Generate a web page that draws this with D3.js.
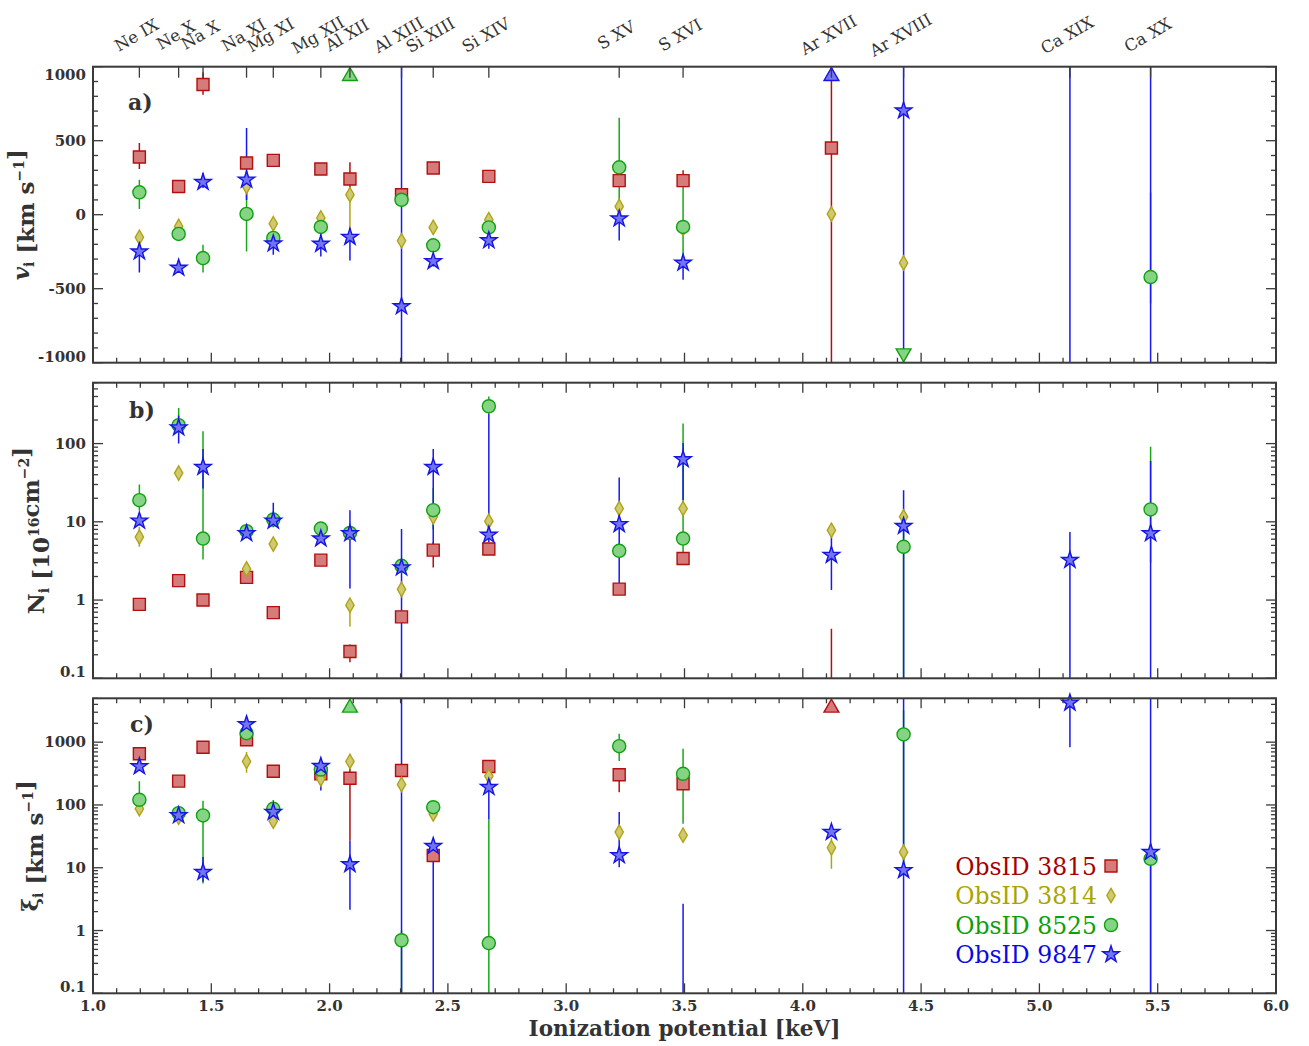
<!DOCTYPE html>
<html><head><meta charset="utf-8">
<script src="https://cdn.jsdelivr.net/npm/d3@7/dist/d3.min.js"></script>
<style>body{margin:0;background:#fff}svg{display:block}</style>
</head><body>
<svg id="chart" width="1309" height="1046"></svg>
<script>
// ---------------- DATA ----------------
const ions = ["Ne IX","Ne X","Na X","Na XI","Mg XI","Mg XII","Al XII","Al XIII","Si XIII","Si XIV","S XV","S XVI","Ar XVII","Ar XVIII","Ca XIX","Ca XX"];
const ionEnergy = [1.196,1.362,1.465,1.649,1.762,1.963,2.086,2.304,2.438,2.673,3.224,3.494,4.121,4.426,5.129,5.470];
const obsIds = ["3815","3814","8525","9847"];
const N = null;

// panel a: velocity [km/s]; "up"/"down" = value off the axis
const vel3815   = [390,191,880,349,367,309,241,135,316,259,230,230,451,N,N,N];
const vel3815Lo = [309,175,810,330,340,290,180,120,300,245,215,212,-1100,N,N,N];
const vel3815Hi = [485,210,960,370,405,330,355,150,335,275,250,300,1100,N,N,N];
const vel3814   = [-153,-79,N,191,-61,-22,135,-176,-86,-34,56,-95,5,-326,N,N];
const vel3814Lo = [-180,-100,N,170,-85,-45,-100,-200,-115,-55,35,-110,-15,-350,N,N];
const vel3814Hi = [-125,-55,N,215,-40,0,180,-150,-55,-10,80,-80,25,-300,N,N];
const vel8525   = [151,-130,-293,5,-157,-83,"up",101,-207,-86,320,-83,N,"down",N,-421];
const vel8525Lo = [38,-155,-390,-248,-180,-110,N,70,-230,-110,60,-270,N,N,N,-600];
const vel8525Hi = [236,-105,-203,200,-135,-60,N,130,-185,-62,655,195,N,N,N,150];
const vel9847   = [-250,-360,220,236,-196,-198,-151,-620,-315,-174,-27,-326,"up",703,N,N];
const vel9847Lo = [-390,-385,180,100,-270,-282,-309,-1100,-350,-230,-174,-439,N,-1100,-1100,-1100];
const vel9847Hi = [-169,-335,282,586,-140,-130,-90,1100,-280,-120,20,-270,N,1100,1100,1100];

// panel b: column density [1e16 cm^-2]
const col3815   = [0.88,1.77,1.0,1.95,0.69,3.24,0.22,0.61,4.35,4.5,1.38,3.4,N,N,N,N];
const col3815Lo = [0.82,1.65,0.93,1.8,0.64,3.0,0.16,0.55,2.6,4.2,1.3,3.2,0.01,N,N,N];
const col3815Hi = [0.95,1.9,1.08,2.1,0.75,3.5,0.27,0.67,5.5,4.9,1.5,3.7,0.43,N,N,N];
const col3814   = [6.4,42,N,2.5,5.2,N,0.86,1.37,11.6,10.2,14.8,14.8,7.8,11.6,N,N];
const col3814Lo = [4.8,36,N,2.2,4.4,N,0.46,1.1,10,9,13,13,6.5,10,N,N];
const col3814Hi = [8.6,50,N,2.9,6.2,N,1.0,1.7,13.5,11.5,17,17,9.5,13.5,N,N];
const col8525   = [18.9,172,6.1,7.6,10.7,8.2,7.2,2.74,14.1,300,4.26,6.1,N,4.8,N,14.4];
const col8525Lo = [14,140,3.3,6.8,9.5,7.5,6.5,2.4,8,240,3.5,4,N,0.01,N,3];
const col8525Hi = [30,286,144,8.5,12,9,8,3.1,27,400,5.3,181,N,9,N,91];
const col9847   = [10.3,160,50,7.1,10.3,6.1,7.1,2.59,50,6.8,9.3,62.7,3.76,8.8,3.24,7.1];
const col9847Lo = [9,100,26.7,6.5,8.5,5.5,1.41,0.01,4.5,5.5,1.63,19,1.34,0.01,0.01,0.01];
const col9847Hi = [12,229,85,7.8,17.5,6.8,14.1,8.1,85,241,36.9,102,9,25.4,7.4,60];

// panel c: xi [km/s]
const xi3815   = [653,240,832,1091,345,314,267,354,15.7,410,303,218,"up",N,N,N];
const xi3815Lo = [600,220,770,1000,320,290,27,320,14,380,160,200,N,N,N,N];
const xi3815Hi = [700,260,900,1180,375,340,442,390,17,440,330,240,N,N,N,N];
const xi3814   = [87,64,N,493,55,261,493,212,72,288,37,33,20.8,17.7,N,N];
const xi3814Lo = [75,55,N,325,47,230,420,190,65,260,32,29,9.6,15,N,N];
const xi3814Hi = [100,72,N,700,65,290,650,235,80,320,43,38,30,21,N,N];
const xi8525   = [121,74,68,1390,87,367,"up",0.70,92,0.63,863,314,N,1327,N,13.9];
const xi8525Lo = [95,67,5.6,1250,80,340,N,0.05,85,0.01,500,50,N,10,N,0.01];
const xi8525Hi = [239,82,117,1550,120,400,N,1,110,60,1360,785,N,3200,N,20];
const xi9847   = [410,68,8.5,1914,77,415,11.3,N,22,192,15.7,N,37,9.1,4240,17.7];
const xi9847Lo = [360,60,6,1700,70,170,2.14,0.01,0.01,60,10.2,0.01,32,0.01,832,0.01];
const xi9847Hi = [470,76,14.8,2150,85,480,27,9000,28,230,77,2.67,43,9000,9000,9000];

const velTicks = [-1000,-500,0,500,1000];
const logTickLabels = [0.1,1,10,100,1000];
const xTicks = [1.0,1.5,2.0,2.5,3.0,3.5,4.0,4.5,5.0,5.5,6.0];

// ---------------- STYLE ----------------
const styles = [
  {edge:"#b01010", fill:"#d67a7a", line:"#b01010", text:"#a80000", sym:d3.symbolSquare,  size:144},
  {edge:"#b0a414", fill:"#cfca72", line:"#b0a414", text:"#aaa400", sym:d3.symbolDiamond, size:60},
  {edge:"#12a012", fill:"#84d484", line:"#16a816", text:"#0ca00c", sym:d3.symbolCircle,  size:135},
  {edge:"#1414e6", fill:"#7474f0", line:"#1818f0", text:"#0a0ae6", sym:d3.symbolStar,    size:85}
];
const FONT = "'DejaVu Serif', serif";
const AX = "#3a3a3a";

const svg = d3.select("#chart");
const x = d3.scaleLinear([1,6],[93,1276]);
const panels = [
  {key:"a", y:d3.scaleLinear([-1000,1000],[362.7,66.7]), vals:[vel3815,vel3814,vel8525,vel9847], lo:[vel3815Lo,vel3814Lo,vel8525Lo,vel9847Lo], hi:[vel3815Hi,vel3814Hi,vel8525Hi,vel9847Hi], log:false, lab:[128,110], title:"v", tx:29},
  {key:"b", y:d3.scaleLog([0.1,600],[678.3,382.7]), vals:[col3815,col3814,col8525,col9847], lo:[col3815Lo,col3814Lo,col8525Lo,col9847Lo], hi:[col3815Hi,col3814Hi,col8525Hi,col9847Hi], log:true, lab:[129,418], title:"N", tx:44},
  {key:"c", y:d3.scaleLog([0.1,5000],[993.3,698.3]), vals:[xi3815,xi3814,xi8525,xi9847], lo:[xi3815Lo,xi3814Lo,xi8525Lo,xi9847Lo], hi:[xi3815Hi,xi3814Hi,xi8525Hi,xi9847Hi], log:true, lab:[130,732], title:"xi", tx:38}
];

const defs = svg.append("defs");

panels.forEach((p,pi)=>{
  const [y0,y1] = p.y.range(); // bottom, top
  const g = svg.append("g");
  defs.append("clipPath").attr("id","clip"+p.key).append("rect")
    .attr("x",x(1)).attr("y",y1).attr("width",x(6)-x(1)).attr("height",y0-y1);
  const data = g.append("g").attr("clip-path",`url(#clip${p.key})`);

  // error bars
  styles.forEach((s,si)=>{
    ionEnergy.forEach((e,i)=>{
      const lo = p.lo[si][i], hi = p.hi[si][i];
      if(lo==null || hi==null) return;
      data.append("line").attr("x1",x(e)).attr("x2",x(e))
        .attr("y1",p.y(lo)).attr("y2",p.y(hi))
        .attr("stroke",s.line).attr("stroke-width",1.5);
    });
  });
  // markers
  styles.forEach((s,si)=>{
    ionEnergy.forEach((e,i)=>{
      const v = p.vals[si][i];
      if(v==null) return;
      let path, cx=x(e), cy;
      if(v==="up"){ path=d3.symbol(d3.symbolTriangle,95)(); cy=y1+9.5; }
      else if(v==="down"){ path=d3.symbol(d3.symbolTriangle,95)(); cy=y0-9.5; }
      else { path=d3.symbol(s.sym,s.size)(); cy=p.y(v); }
      g.append("path").attr("d",path)
        .attr("transform",`translate(${cx},${cy})${v==="down"?" rotate(180)":""}`)
        .attr("fill",s.fill).attr("stroke",s.edge).attr("stroke-width",1.4);
    });
  });

  // axes
  const ax = g.append("g").attr("stroke",AX).attr("stroke-width",1.3);
  const xMinor = d3.range(1,6.001,0.1).map(v=>+v.toFixed(1));
  const addT = (x1,y1,x2,y2)=>ax.append("line").attr("x1",x1).attr("y1",y1).attr("x2",x2).attr("y2",y2);
  xMinor.forEach(v=>{
    const maj = Math.abs(v*2-Math.round(v*2))<1e-6;
    const L = maj?10:5;
    addT(x(v),y0,x(v),y0-L);
    if(pi>0) addT(x(v),y1,x(v),y1+L);
  });
  if(pi===0){
    ionEnergy.forEach(e=>addT(x(e),y1,x(e),y1+11));
  }
  let yt;
  if(!p.log){
    yt = d3.range(-1000,1001,100).map(v=>({v, maj: v%500===0}));
  } else {
    const d = p.y.domain();
    yt = p.y.ticks().filter(v=>v>=d[0]-1e-9 && v<=d[1]+1e-9).map(v=>{
      const l = Math.log10(v); return {v, maj: Math.abs(l-Math.round(l))<1e-6};
    });
  }
  yt.forEach(t=>{
    const L = t.maj?10:5;
    addT(x(1),p.y(t.v),x(1)+L,p.y(t.v));
    addT(x(6),p.y(t.v),x(6)-L,p.y(t.v));
  });
  g.append("rect").attr("x",x(1)).attr("y",y1).attr("width",x(6)-x(1)).attr("height",y0-y1)
    .attr("fill","none").attr("stroke",AX).attr("stroke-width",2);

  const labs = p.log ? logTickLabels.filter(v=>v>=p.y.domain()[0] && v<=p.y.domain()[1]) : velTicks;
  labs.forEach(v=>{
    let yy = p.y(v);
    if(Math.abs(yy-y0)<1) yy -= 6;
    if(Math.abs(yy-y1)<1) yy += 8;
    g.append("text").attr("x",86).attr("y",yy+5).attr("text-anchor","end")
      .attr("font-family",FONT).attr("font-weight","bold").attr("font-size",15).attr("fill","#333")
      .text(String(v));
  });
  g.append("text").attr("x",p.lab[0]).attr("y",p.lab[1]).attr("font-family",FONT)
    .attr("font-weight","bold").attr("font-size",22).attr("fill","#333").text(p.key+")");

  const ty = (y0+y1)/2;
  const t = g.append("text").attr("transform",`translate(${p.tx},${ty}) rotate(-90)`)
    .attr("text-anchor","middle").attr("font-family",FONT).attr("font-weight","bold")
    .attr("font-size",23).attr("fill","#333");
  const sub = (txt)=>{ t.append("tspan").attr("font-size",14).attr("dy",5).text(txt); t.append("tspan").attr("dy",-5).text(""); };
  const sup = (txt)=>{ t.append("tspan").attr("font-size",14).attr("dy",-10).text(txt); t.append("tspan").attr("dy",10).text(""); };
  if(p.title==="v"){
    t.append("tspan").attr("font-style","italic").text("v"); sub("i");
    t.append("tspan").text(" [km s"); sup("−1"); t.append("tspan").text("]");
  } else if(p.title==="N"){
    t.append("tspan").text("N"); sub("i");
    t.append("tspan").text(" [10"); sup("16"); t.append("tspan").text("cm"); sup("−2"); t.append("tspan").text("]");
  } else {
    t.append("tspan").text("ξ"); sub("i");
    t.append("tspan").text(" [km s"); sup("−1"); t.append("tspan").text("]");
  }
});

// ion labels on top
ions.forEach((name,i)=>{
  svg.append("text").attr("transform",`translate(${x(ionEnergy[i])},40) rotate(-30)`)
    .attr("text-anchor","middle").attr("font-family",FONT).attr("font-size",16.5).attr("fill","#333")
    .text(name);
});

// x tick labels
xTicks.forEach(v=>{
  svg.append("text").attr("x",x(v)).attr("y",1011).attr("text-anchor","middle")
    .attr("font-family",FONT).attr("font-weight","bold").attr("font-size",15).attr("fill","#333")
    .text(v.toFixed(1));
});
svg.append("text").attr("x",684.5).attr("y",1036).attr("text-anchor","middle")
  .attr("font-family",FONT).attr("font-weight","bold").attr("font-size",21.5).attr("fill","#333")
  .text("Ionization potential [keV]");

// legend
const legY = [866,895.5,925,954.5];
obsIds.forEach((id,i)=>{
  const s = styles[i];
  svg.append("text").attr("x",1097).attr("y",legY[i]+8.5).attr("text-anchor","end")
    .attr("font-family",FONT).attr("font-size",23.5).attr("fill",s.text).text("ObsID " + id);
  svg.append("path").attr("d",d3.symbol(s.sym,s.size)())
    .attr("transform",`translate(1111,${legY[i]})`)
    .attr("fill",s.fill).attr("stroke",s.edge).attr("stroke-width",1.4);
});
</script>
</body></html>
